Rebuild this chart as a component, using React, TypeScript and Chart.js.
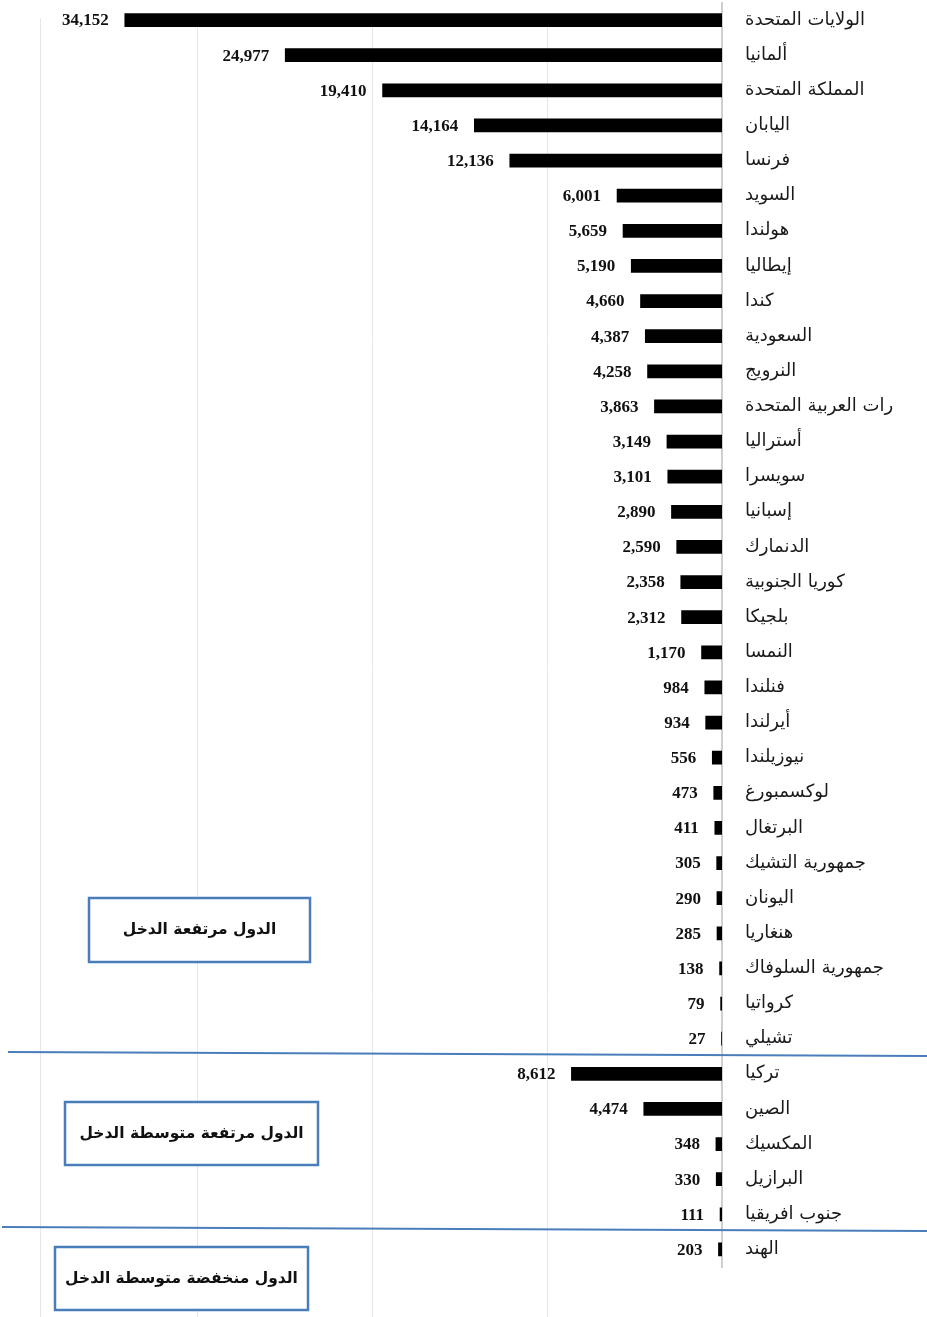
import React, { useEffect, useRef } from "react";
import { Chart, registerables } from "chart.js";

Chart.register(...registerables);

const countries: string[] = [
  "الولايات المتحدة",
  "ألمانيا",
  "المملكة المتحدة",
  "اليابان",
  "فرنسا",
  "السويد",
  "هولندا",
  "إيطاليا",
  "كندا",
  "السعودية",
  "النرويج",
  "رات العربية المتحدة",
  "أستراليا",
  "سويسرا",
  "إسبانيا",
  "الدنمارك",
  "كوريا الجنوبية",
  "بلجيكا",
  "النمسا",
  "فنلندا",
  "أيرلندا",
  "نيوزيلندا",
  "لوكسمبورغ",
  "البرتغال",
  "جمهورية التشيك",
  "اليونان",
  "هنغاريا",
  "جمهورية السلوفاك",
  "كرواتيا",
  "تشيلي",
  "تركيا",
  "الصين",
  "المكسيك",
  "البرازيل",
  "جنوب افريقيا",
  "الهند",
];

const values: number[] = [
  34152, 24977, 19410, 14164, 12136, 6001, 5659, 5190, 4660, 4387, 4258, 3863,
  3149, 3101, 2890, 2590, 2358, 2312, 1170, 984, 934, 556, 473, 411, 305, 290,
  285, 138, 79, 27, 8612, 4474, 348, 330, 111, 203,
];

const groupLabels: string[] = [
  "الدول مرتفعة الدخل",
  "الدول مرتفعة متوسطة الدخل",
  "الدول منخفضة متوسطة الدخل",
];

const gridValues: number[] = [10000, 20000, 30000, 39000];

const W = 927;
const H = 1317;
const BLUE = "#4a7ebb";

const fmt = (v: number) => v.toLocaleString("en-US");

const decorPlugin = {
  id: "decor",
  beforeDatasetsDraw(chart: any) {
    const ctx = chart.ctx;
    const xs = chart.scales.x;
    ctx.save();
    ctx.strokeStyle = "#e6e6e6";
    ctx.lineWidth = 1;
    for (const v of gridValues) {
      const px = Math.round(xs.getPixelForValue(v)) + 0.5;
      ctx.beginPath();
      ctx.moveTo(px, 18);
      ctx.lineTo(px, H);
      ctx.stroke();
    }
    ctx.restore();
  },
  afterDatasetsDraw(chart: any) {
    const ctx = chart.ctx;
    const meta = chart.getDatasetMeta(0);
    ctx.save();
    ctx.font = "bold 17px 'Liberation Serif', serif";
    ctx.fillStyle = "#111";
    ctx.textAlign = "right";
    ctx.textBaseline = "middle";
    meta.data.forEach((bar: any, i: number) => {
      ctx.fillText(fmt(values[i]), bar.x - 16, bar.y + 1);
    });
    ctx.restore();
  },
  afterDraw(chart: any) {
    const ctx = chart.ctx;
    ctx.save();
    ctx.strokeStyle = BLUE;
    ctx.lineWidth = 2;
    ctx.beginPath();
    ctx.moveTo(8, 1052);
    ctx.lineTo(W, 1056);
    ctx.stroke();
    ctx.beginPath();
    ctx.moveTo(2, 1227);
    ctx.lineTo(W, 1231);
    ctx.stroke();
    const boxes = [
      { x: 89, y: 898, w: 221, h: 64 },
      { x: 65, y: 1102, w: 253, h: 63 },
      { x: 55, y: 1247, w: 253, h: 63 },
    ];
    boxes.forEach((b, i) => {
      ctx.fillStyle = "#ffffff";
      ctx.fillRect(b.x, b.y, b.w, b.h);
      ctx.strokeStyle = BLUE;
      ctx.lineWidth = 2.5;
      ctx.strokeRect(b.x, b.y, b.w, b.h);
      ctx.fillStyle = "#111";
      ctx.font = "bold 15.5px 'DejaVu Sans', sans-serif";
      ctx.textAlign = "center";
      ctx.textBaseline = "middle";
      ctx.fillText(groupLabels[i], b.x + b.w / 2, b.y + b.h / 2);
    });
    ctx.restore();
  },
};

export default function App() {
  const ref = useRef<HTMLCanvasElement | null>(null);
  useEffect(() => {
    if (!ref.current) return;
    const chart = new Chart(ref.current, {
      type: "bar",
      data: {
        labels: countries,
        datasets: [
          {
            data: values,
            backgroundColor: "#000000",
            borderWidth: 0,
            barThickness: 13,
          },
        ],
      },
      options: {
        indexAxis: "y",
        responsive: false,
        animation: false,
        layout: { padding: { left: 40, right: 0, top: 2.5, bottom: 50 } },
        plugins: {
          legend: { display: false },
          tooltip: { enabled: false },
        },
        scales: {
          x: {
            display: false,
            reverse: true,
            min: 0,
            max: 39000,
          },
          y: {
            position: "right",
            grid: { display: false, drawTicks: false },
            border: { display: true, color: "#cfcfcf", width: 2 },
            afterFit: (scale: any) => {
              scale.width = W - 722;
              scale.paddingTop = 0;
              scale.paddingBottom = 0;
            },
            ticks: {
              padding: 23,
              color: "#1a1a1a",
              font: { family: "'DejaVu Sans', sans-serif", size: 18 },
              autoSkip: false,
            },
          },
        },
      },
      plugins: [decorPlugin],
    });
    return () => chart.destroy();
  }, []);
  return (
    <div style={{ position: "absolute", left: 0, top: 0, width: W, height: H, background: "#fff" }}>
      <canvas ref={ref} width={W} height={H} style={{ width: W, height: H, display: "block" }} />
    </div>
  );
}
